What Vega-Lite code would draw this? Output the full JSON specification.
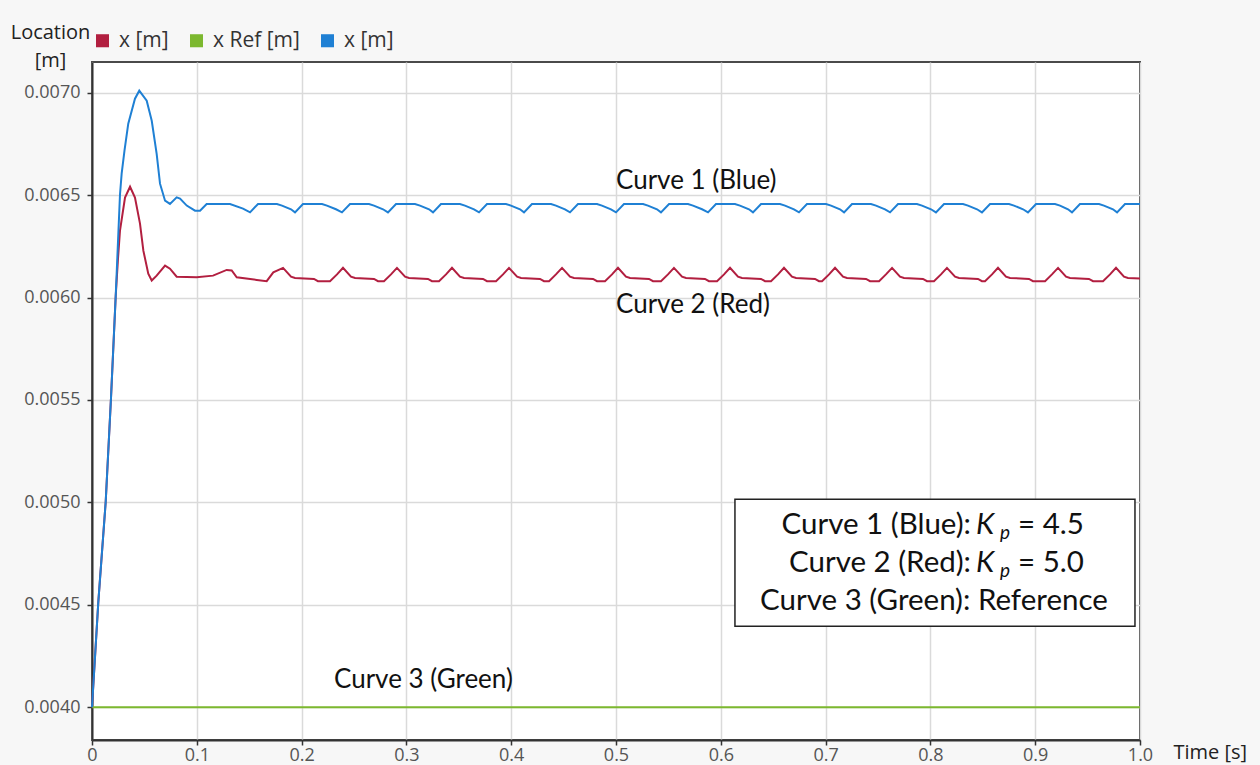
{
  "$schema": "https://vega.github.io/schema/vega-lite/v6.json",
  "width": 1048,
  "height": 678,
  "autosize": "none",
  "padding": {"left": 92, "top": 62, "right": 120, "bottom": 25},
  "background": "#f7f7f7",
  "config": {
    "font": "Open Sans",
    "view": {"fill": "white", "stroke": "#4a4a4a", "strokeWidth": 2}
  },
  "datasets": {
    "curves": [
      {"s":"g","t":0,"v":0.004},{"s":"g","t":1,"v":0.004},
      {"s":"r","t":0,"v":0.004},{"s":"r","t":0.006,"v":0.004512},{"s":"r","t":0.0131,"v":0.005005},{"s":"r","t":0.0181,"v":0.005507},{"s":"r","t":0.0226,"v":0.006005},{"s":"r","t":0.0248,"v":0.00619},{"s":"r","t":0.0267,"v":0.006327},{"s":"r","t":0.0315,"v":0.006488},{"s":"r","t":0.0363,"v":0.006541},{"s":"r","t":0.041,"v":0.006488},{"s":"r","t":0.0458,"v":0.006361},{"s":"r","t":0.049,"v":0.006229},{"s":"r","t":0.0537,"v":0.006117},{"s":"r","t":0.057,"v":0.006083},{"s":"r","t":0.0617,"v":0.006107},{"s":"r","t":0.0697,"v":0.006156},{"s":"r","t":0.0744,"v":0.006141},{"s":"r","t":0.0808,"v":0.006102},{"s":"r","t":0.0999,"v":0.006099},{"s":"r","t":0.1155,"v":0.006107},{"s":"r","t":0.1285,"v":0.006135},{"s":"r","t":0.1333,"v":0.006132},{"s":"r","t":0.1381,"v":0.006099},{"s":"r","t":0.1572,"v":0.006086},{"s":"r","t":0.1667,"v":0.00608},{"s":"r","t":0.173,"v":0.006123},
      {"s":"r","t":0.1823,"v":0.006145},{"s":"r","t":0.1899,"v":0.006102},{"s":"r","t":0.1937,"v":0.006096},{"s":"r","t":0.2118,"v":0.006091},{"s":"r","t":0.2156,"v":0.00608},{"s":"r","t":0.2271,"v":0.00608},{"s":"r","t":0.2338,"v":0.006113},
      {"s":"r","t":0.2395,"v":0.006145},{"s":"r","t":0.2471,"v":0.006102},{"s":"r","t":0.251,"v":0.006096},{"s":"r","t":0.2691,"v":0.006091},{"s":"r","t":0.2729,"v":0.00608},{"s":"r","t":0.2786,"v":0.00608},{"s":"r","t":0.2853,"v":0.006113},
      {"s":"r","t":0.291,"v":0.006145},{"s":"r","t":0.2987,"v":0.006102},{"s":"r","t":0.3025,"v":0.006096},{"s":"r","t":0.3206,"v":0.006091},{"s":"r","t":0.3244,"v":0.00608},{"s":"r","t":0.3311,"v":0.00608},{"s":"r","t":0.3378,"v":0.006113},
      {"s":"r","t":0.3435,"v":0.006145},{"s":"r","t":0.3511,"v":0.006102},{"s":"r","t":0.355,"v":0.006096},{"s":"r","t":0.3731,"v":0.006091},{"s":"r","t":0.3769,"v":0.00608},{"s":"r","t":0.3855,"v":0.00608},{"s":"r","t":0.3922,"v":0.006113},
      {"s":"r","t":0.3979,"v":0.006145},{"s":"r","t":0.4056,"v":0.006102},{"s":"r","t":0.4094,"v":0.006096},{"s":"r","t":0.4275,"v":0.006091},{"s":"r","t":0.4313,"v":0.00608},{"s":"r","t":0.4361,"v":0.00608},{"s":"r","t":0.4427,"v":0.006113},
      {"s":"r","t":0.4485,"v":0.006145},{"s":"r","t":0.4561,"v":0.006102},{"s":"r","t":0.4599,"v":0.006096},{"s":"r","t":0.4781,"v":0.006091},{"s":"r","t":0.4819,"v":0.00608},{"s":"r","t":0.4895,"v":0.00608},{"s":"r","t":0.4962,"v":0.006113},
      {"s":"r","t":0.5019,"v":0.006145},{"s":"r","t":0.5095,"v":0.006102},{"s":"r","t":0.5134,"v":0.006096},{"s":"r","t":0.5315,"v":0.006091},{"s":"r","t":0.5353,"v":0.00608},{"s":"r","t":0.5429,"v":0.00608},{"s":"r","t":0.5496,"v":0.006113},
      {"s":"r","t":0.5553,"v":0.006145},{"s":"r","t":0.563,"v":0.006102},{"s":"r","t":0.5668,"v":0.006096},{"s":"r","t":0.5849,"v":0.006091},{"s":"r","t":0.5887,"v":0.00608},{"s":"r","t":0.5964,"v":0.00608},{"s":"r","t":0.6031,"v":0.006113},
      {"s":"r","t":0.6088,"v":0.006145},{"s":"r","t":0.6164,"v":0.006102},{"s":"r","t":0.6202,"v":0.006096},{"s":"r","t":0.6384,"v":0.006091},{"s":"r","t":0.6422,"v":0.00608},{"s":"r","t":0.6479,"v":0.00608},{"s":"r","t":0.6546,"v":0.006113},
      {"s":"r","t":0.6603,"v":0.006145},{"s":"r","t":0.6679,"v":0.006102},{"s":"r","t":0.6718,"v":0.006096},{"s":"r","t":0.6899,"v":0.006091},{"s":"r","t":0.6937,"v":0.00608},{"s":"r","t":0.6966,"v":0.00608},{"s":"r","t":0.7033,"v":0.006113},
      {"s":"r","t":0.709,"v":0.006145},{"s":"r","t":0.7166,"v":0.006102},{"s":"r","t":0.7204,"v":0.006096},{"s":"r","t":0.7386,"v":0.006091},{"s":"r","t":0.7424,"v":0.00608},{"s":"r","t":0.751,"v":0.00608},{"s":"r","t":0.7576,"v":0.006113},
      {"s":"r","t":0.7634,"v":0.006145},{"s":"r","t":0.771,"v":0.006102},{"s":"r","t":0.7748,"v":0.006096},{"s":"r","t":0.7929,"v":0.006091},{"s":"r","t":0.7968,"v":0.00608},{"s":"r","t":0.8034,"v":0.00608},{"s":"r","t":0.8101,"v":0.006113},
      {"s":"r","t":0.8158,"v":0.006145},{"s":"r","t":0.8235,"v":0.006102},{"s":"r","t":0.8273,"v":0.006096},{"s":"r","t":0.8454,"v":0.006091},{"s":"r","t":0.8492,"v":0.00608},{"s":"r","t":0.8521,"v":0.00608},{"s":"r","t":0.8588,"v":0.006113},
      {"s":"r","t":0.8645,"v":0.006145},{"s":"r","t":0.8721,"v":0.006102},{"s":"r","t":0.876,"v":0.006096},{"s":"r","t":0.8941,"v":0.006091},{"s":"r","t":0.8979,"v":0.00608},{"s":"r","t":0.9094,"v":0.00608},{"s":"r","t":0.916,"v":0.006113},
      {"s":"r","t":0.9218,"v":0.006145},{"s":"r","t":0.9294,"v":0.006102},{"s":"r","t":0.9332,"v":0.006096},{"s":"r","t":0.9513,"v":0.006091},{"s":"r","t":0.9552,"v":0.00608},{"s":"r","t":0.9647,"v":0.00608},{"s":"r","t":0.9714,"v":0.006113},
      {"s":"r","t":0.9771,"v":0.006145},{"s":"r","t":0.9847,"v":0.006102},{"s":"r","t":0.9885,"v":0.006096},{"s":"r","t":1.0,"v":0.006093},
      {"s":"b","t":0,"v":0.004},{"s":"b","t":0.006,"v":0.004512},{"s":"b","t":0.0131,"v":0.005005},{"s":"b","t":0.0181,"v":0.005507},{"s":"b","t":0.0226,"v":0.006005},{"s":"b","t":0.0267,"v":0.006502},{"s":"b","t":0.0283,"v":0.006605},{"s":"b","t":0.031,"v":0.006717},{"s":"b","t":0.0346,"v":0.006849},{"s":"b","t":0.041,"v":0.006971},{"s":"b","t":0.0451,"v":0.00701},{"s":"b","t":0.0522,"v":0.006961},{"s":"b","t":0.057,"v":0.006863},{"s":"b","t":0.0617,"v":0.006702},{"s":"b","t":0.0649,"v":0.006556},{"s":"b","t":0.0697,"v":0.006473},{"s":"b","t":0.0744,"v":0.006457},{"s":"b","t":0.0808,"v":0.006489},{"s":"b","t":0.084,"v":0.006483},{"s":"b","t":0.0904,"v":0.006449},{"s":"b","t":0.0983,"v":0.006424},{"s":"b","t":0.1031,"v":0.006424},{"s":"b","t":0.1094,"v":0.006457},{"s":"b","t":0.1317,"v":0.006457},{"s":"b","t":0.1441,"v":0.006434},
      {"s":"b","t":0.1508,"v":0.006416},{"s":"b","t":0.1584,"v":0.006457},{"s":"b","t":0.1765,"v":0.006457},{"s":"b","t":0.1813,"v":0.006449},{"s":"b","t":0.1899,"v":0.006431},
      {"s":"b","t":0.1937,"v":0.006416},{"s":"b","t":0.2013,"v":0.006457},{"s":"b","t":0.2195,"v":0.006457},{"s":"b","t":0.2242,"v":0.006449},{"s":"b","t":0.2328,"v":0.006431},
      {"s":"b","t":0.2385,"v":0.006416},{"s":"b","t":0.2462,"v":0.006457},{"s":"b","t":0.2643,"v":0.006457},{"s":"b","t":0.2691,"v":0.006449},{"s":"b","t":0.2777,"v":0.006431},
      {"s":"b","t":0.2824,"v":0.006416},{"s":"b","t":0.2901,"v":0.006457},{"s":"b","t":0.3082,"v":0.006457},{"s":"b","t":0.313,"v":0.006449},{"s":"b","t":0.3216,"v":0.006431},
      {"s":"b","t":0.3254,"v":0.006416},{"s":"b","t":0.333,"v":0.006457},{"s":"b","t":0.3511,"v":0.006457},{"s":"b","t":0.3559,"v":0.006449},{"s":"b","t":0.3645,"v":0.006431},
      {"s":"b","t":0.3693,"v":0.006416},{"s":"b","t":0.3769,"v":0.006457},{"s":"b","t":0.395,"v":0.006457},{"s":"b","t":0.3998,"v":0.006449},{"s":"b","t":0.4084,"v":0.006431},
      {"s":"b","t":0.4122,"v":0.006416},{"s":"b","t":0.4198,"v":0.006457},{"s":"b","t":0.438,"v":0.006457},{"s":"b","t":0.4427,"v":0.006449},{"s":"b","t":0.4513,"v":0.006431},
      {"s":"b","t":0.4561,"v":0.006416},{"s":"b","t":0.4637,"v":0.006457},{"s":"b","t":0.4819,"v":0.006457},{"s":"b","t":0.4866,"v":0.006449},{"s":"b","t":0.4952,"v":0.006431},
      {"s":"b","t":0.5,"v":0.006416},{"s":"b","t":0.5076,"v":0.006457},{"s":"b","t":0.5258,"v":0.006457},{"s":"b","t":0.5305,"v":0.006449},{"s":"b","t":0.5391,"v":0.006431},
      {"s":"b","t":0.5429,"v":0.006416},{"s":"b","t":0.5506,"v":0.006457},{"s":"b","t":0.5687,"v":0.006457},{"s":"b","t":0.5735,"v":0.006449},{"s":"b","t":0.5821,"v":0.006431},
      {"s":"b","t":0.5878,"v":0.006416},{"s":"b","t":0.5954,"v":0.006457},{"s":"b","t":0.6135,"v":0.006457},{"s":"b","t":0.6183,"v":0.006449},{"s":"b","t":0.6269,"v":0.006431},
      {"s":"b","t":0.6307,"v":0.006416},{"s":"b","t":0.6384,"v":0.006457},{"s":"b","t":0.6565,"v":0.006457},{"s":"b","t":0.6613,"v":0.006449},{"s":"b","t":0.6698,"v":0.006431},
      {"s":"b","t":0.6746,"v":0.006416},{"s":"b","t":0.6822,"v":0.006457},{"s":"b","t":0.7004,"v":0.006457},{"s":"b","t":0.7052,"v":0.006449},{"s":"b","t":0.7137,"v":0.006431},
      {"s":"b","t":0.7176,"v":0.006416},{"s":"b","t":0.7252,"v":0.006457},{"s":"b","t":0.7433,"v":0.006457},{"s":"b","t":0.7481,"v":0.006449},{"s":"b","t":0.7567,"v":0.006431},
      {"s":"b","t":0.7615,"v":0.006416},{"s":"b","t":0.7691,"v":0.006457},{"s":"b","t":0.7872,"v":0.006457},{"s":"b","t":0.792,"v":0.006449},{"s":"b","t":0.8006,"v":0.006431},
      {"s":"b","t":0.8053,"v":0.006416},{"s":"b","t":0.813,"v":0.006457},{"s":"b","t":0.8311,"v":0.006457},{"s":"b","t":0.8359,"v":0.006449},{"s":"b","t":0.8445,"v":0.006431},
      {"s":"b","t":0.8492,"v":0.006416},{"s":"b","t":0.8569,"v":0.006457},{"s":"b","t":0.875,"v":0.006457},{"s":"b","t":0.8798,"v":0.006449},{"s":"b","t":0.8884,"v":0.006431},
      {"s":"b","t":0.8931,"v":0.006416},{"s":"b","t":0.9008,"v":0.006457},{"s":"b","t":0.9189,"v":0.006457},{"s":"b","t":0.9237,"v":0.006449},{"s":"b","t":0.9313,"v":0.006431},
      {"s":"b","t":0.9351,"v":0.006416},{"s":"b","t":0.9427,"v":0.006457},{"s":"b","t":0.9609,"v":0.006457},{"s":"b","t":0.9656,"v":0.006449},{"s":"b","t":0.9742,"v":0.006431},
      {"s":"b","t":0.9781,"v":0.006416},{"s":"b","t":0.9857,"v":0.006457},{"s":"b","t":1.0,"v":0.006457}
    ],
    "box": [{"t": 0.6135, "t2": 0.9952, "v": 0.005015, "v2": 0.004395}],
    "notes": [
      {"part": "curve", "t": 0.5, "v": 0.00657, "label": "Curve 1 (Blue)"},
      {"part": "curve", "t": 0.5, "v": 0.005966, "label": "Curve 2 (Red)"},
      {"part": "curve", "t": 0.2309, "v": 0.004132, "label": "Curve 3 (Green)"},
      {"part": "lead", "t": 0.8435, "v": 0.004888, "label": "Curve 1 (Blue):"},
      {"part": "lead", "t": 0.8435, "v": 0.004702, "label": "Curve 2 (Red):"},
      {"part": "k", "t": 0.8435, "v": 0.004888, "label": "K"},
      {"part": "k", "t": 0.8435, "v": 0.004702, "label": "K"},
      {"part": "sub", "t": 0.8435, "v": 0.004888, "label": "p"},
      {"part": "sub", "t": 0.8435, "v": 0.004702, "label": "p"},
      {"part": "rest", "t": 0.8435, "v": 0.004888, "label": "= 4.5"},
      {"part": "rest", "t": 0.8435, "v": 0.004702, "label": "= 5.0"},
      {"part": "center", "t": 0.8034, "v": 0.004517, "label": "Curve 3 (Green): Reference"}
    ]
  },
  "encoding": {
    "x": {
      "field": "t", "type": "quantitative",
      "scale": {"domain": [0, 1], "nice": false, "zero": false},
      "axis": {
        "title": "Time [s]", "titleX": 1081, "titleY": 12, "titleAlign": "left", "titleBaseline": "middle",
        "titleFontSize": 20, "titleFontWeight": "normal", "titleColor": "#222", "titleFont": "Open Sans",
        "values": [0, 0.1, 0.2, 0.3, 0.4, 0.5, 0.6, 0.7, 0.8, 0.9, 1.0],
        "labelExpr": "datum.value == 0 ? '0' : format(datum.value, '.1f')",
        "labelFontSize": 18, "labelColor": "#555", "labelFlush": false, "labelPadding": 1,
        "tickSize": 5, "tickColor": "#333", "tickWidth": 1.5,
        "domainColor": "#333", "domainWidth": 2,
        "grid": true, "gridColor": "#dadada", "gridWidth": 1.5
      }
    },
    "y": {
      "field": "v", "type": "quantitative",
      "scale": {"domain": [0.00384, 0.00715], "nice": false, "zero": false},
      "axis": {
        "title": ["Location", "[m]"], "titleAngle": 0, "titleX": -42, "titleY": -24, "titleAlign": "center",
        "titleBaseline": "alphabetic", "titleLineHeight": 28,
        "titleFontSize": 20, "titleFontWeight": "normal", "titleColor": "#222",
        "values": [0.004, 0.0045, 0.005, 0.0055, 0.006, 0.0065, 0.007],
        "format": ".4f",
        "labelFontSize": 18, "labelColor": "#555", "labelFlush": false, "labelPadding": 7,
        "tickSize": 5, "tickColor": "#333", "tickWidth": 1.5,
        "domainColor": "#333", "domainWidth": 2,
        "grid": true, "gridColor": "#dadada", "gridWidth": 1.5
      }
    }
  },
  "layer": [
    {
      "data": {"name": "curves"},
      "mark": {"type": "line", "strokeWidth": 2},
      "encoding": {
        "color": {
          "field": "s", "type": "nominal",
          "scale": {"domain": ["r", "g", "b"], "range": ["#b21f40", "#7cb82f", "#1f80d4"]},
          "legend": {
            "orient": "none", "legendX": 0, "legendY": -32, "direction": "horizontal", "columns": 3,
            "title": null, "padding": 0, "symbolType": "square", "symbolSize": 170, "symbolStrokeWidth": 0,
            "labelFontSize": 21, "labelColor": "#333", "labelOffset": 6, "columnPadding": 17,
            "labelExpr": "datum.value == 'g' ? 'x Ref [m]' : 'x [m]'",
            "encode": {"symbols": {"update": {"fill": {"scale": "color", "field": "value"}, "opacity": {"value": 1}}}}
          }
        }
      }
    },
    {
      "data": {"name": "box"},
      "mark": {"type": "rect", "fill": "white", "stroke": "#222", "strokeWidth": 1.5},
      "encoding": {"x2": {"field": "t2"}, "y2": {"field": "v2"}}
    },
    {
      "data": {"name": "notes"},
      "transform": [{"filter": "datum.part == 'curve'"}],
      "mark": {"type": "text", "align": "left", "baseline": "middle", "font": "Lato", "fontSize": 26, "color": "#111"},
      "encoding": {"text": {"field": "label"}}
    },
    {
      "data": {"name": "notes"},
      "transform": [{"filter": "datum.part == 'lead'"}],
      "mark": {"type": "text", "align": "right", "baseline": "middle", "font": "Lato", "fontSize": 29.5, "color": "#111", "dx": -5},
      "encoding": {"text": {"field": "label"}}
    },
    {
      "data": {"name": "notes"},
      "transform": [{"filter": "datum.part == 'k'"}],
      "mark": {"type": "text", "align": "left", "baseline": "middle", "font": "Lato", "fontStyle": "italic", "fontSize": 29.5, "color": "#111"},
      "encoding": {"text": {"field": "label"}}
    },
    {
      "data": {"name": "notes"},
      "transform": [{"filter": "datum.part == 'sub'"}],
      "mark": {"type": "text", "align": "left", "baseline": "middle", "font": "Lato", "fontStyle": "italic", "fontSize": 19, "color": "#111", "dx": 24, "dy": 8},
      "encoding": {"text": {"field": "label"}}
    },
    {
      "data": {"name": "notes"},
      "transform": [{"filter": "datum.part == 'rest'"}],
      "mark": {"type": "text", "align": "left", "baseline": "middle", "font": "Lato", "fontSize": 29.5, "color": "#111", "dx": 42},
      "encoding": {"text": {"field": "label"}}
    },
    {
      "data": {"name": "notes"},
      "transform": [{"filter": "datum.part == 'center'"}],
      "mark": {"type": "text", "align": "center", "baseline": "middle", "font": "Lato", "fontSize": 29.5, "color": "#111"},
      "encoding": {"text": {"field": "label"}}
    }
  ]
}
